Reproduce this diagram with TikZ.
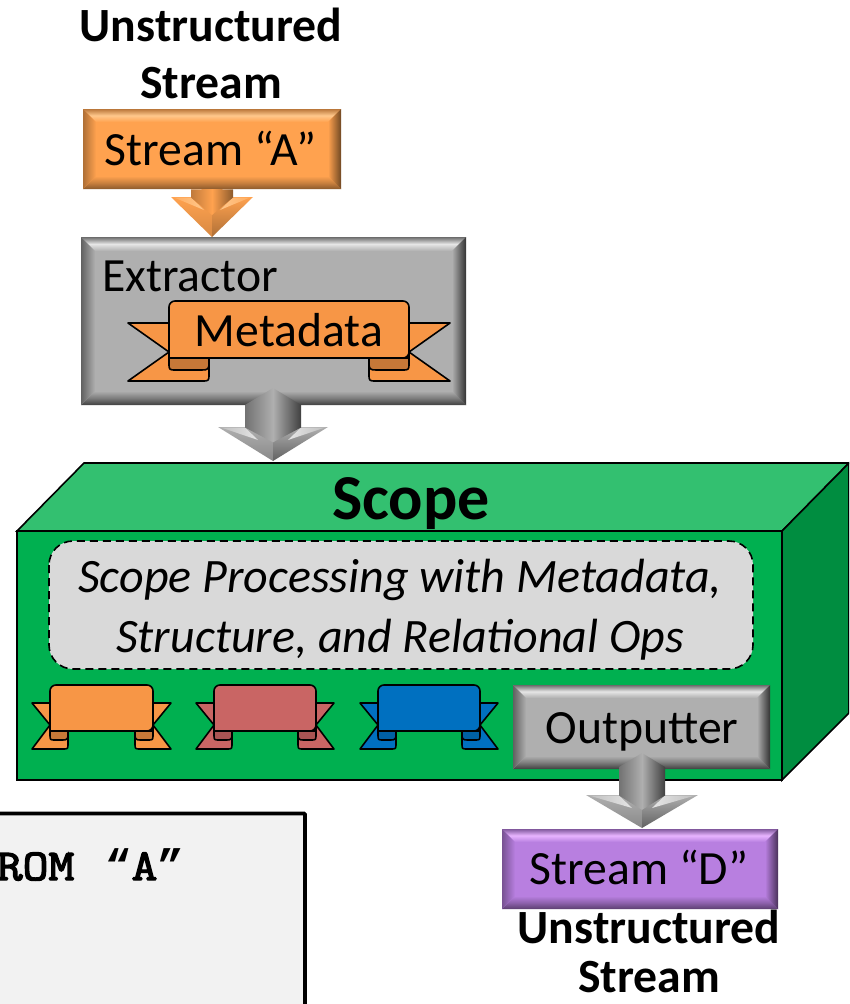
\documentclass[tikz,border=0pt]{standalone}
\usepackage{fontspec}
\setmainfont{Carlito}
\newfontfamily\codefont[FakeBold=3.2,FakeStretch=1.14]{Latin Modern Mono}
\newfontfamily\quotefont{Liberation Mono}
\usetikzlibrary{calc}
\definecolor{orA}{HTML}{FFA24F}\definecolor{orL}{HTML}{FFC88C}\definecolor{orD}{HTML}{8C5A2C}
\definecolor{grA}{HTML}{AFAFAF}\definecolor{grL}{HTML}{E6E6E6}\definecolor{grD}{HTML}{404040}
\definecolor{puA}{HTML}{B87FE0}\definecolor{puL}{HTML}{E8B4FF}\definecolor{puD}{HTML}{5C3F70}
\definecolor{frontG}{HTML}{00B050}\definecolor{topG}{HTML}{33C070}\definecolor{sideG}{HTML}{008D40}
\tikzset{
  lbl/.style={inner sep=0pt,outer sep=0pt,anchor=base,text=black,font=\fontsize{47.7}{48}\selectfont},
  ttl/.style={lbl,font=\fontsize{47.7}{48}\selectfont\bfseries},
  ital/.style={lbl,font=\fontsize{48}{48}\selectfont\itshape},
  ribline/.style={draw=black,line width=1.6pt,line join=round},
  cube/.style={draw=black,line width=1.6pt,line join=miter},
}
% x0 y0 x1 y1 depth prefix
\newcommand{\bevelbox}[6]{%
  \fill[#6A] (#1,#2) rectangle (#3,#4);
  \shade[top color=#6D!60!#6A,bottom color=#6A,middle color=#6L]
     (#1,#2)--(#3,#2)--({#3-#5},{#2+#5})--({#1+#5},{#2+#5})--cycle;
  \shade[top color=#6A,bottom color=#6D,middle color=#6D!45!#6A]
     (#1,#4)--(#3,#4)--({#3-#5},{#4-#5})--({#1+#5},{#4-#5})--cycle;
  \shade[left color=#6D!70!#6A,right color=#6A]
     (#1,#2)--({#1+#5},{#2+#5})--({#1+#5},{#4-#5})--(#1,#4)--cycle;
  \shade[left color=#6A,right color=#6D!80!black]
     (#3,#2)--({#3-#5},{#2+#5})--({#3-#5},{#4-#5})--(#3,#4)--cycle;
}
% cx, stem half, head half, ytop, yshoulder, ywing, ytip, prefix
\newcommand{\blockarrow}[8]{%
  \shade[top color=#8A,bottom color=#8D!35!#8A]
     ({#1-#3},#6)--(#1,#6)--(#1,#7)--cycle;
  \shade[top color=#8A,bottom color=#8D!70!#8A]
     ({#1+#3},#6)--(#1,#6)--(#1,#7)--cycle;
  \shade[left color=#8L!30!#8A,right color=#8L]
     ({#1-#3+3},{#6+0.5})--({#1-#2},{#6+0.5})--({#1-#2+13},{#6+13})--cycle;
  \shade[left color=#8L,right color=#8L!30!#8A]
     ({#1+#3-3},{#6+0.5})--({#1+#2},{#6+0.5})--({#1+#2-13},{#6+13})--cycle;
  \shade[left color=#8D!55!#8A,right color=#8D,middle color=#8A]
     ({#1-#2},{#4+#5})--(#1,#4)--({#1+#2},{#4+#5})--({#1+#2},{#6+0.5})--(#1,{#6+(#7-#6)*0.45})--({#1-#2},{#6+0.5})--cycle;
}
% x0 x1 ytop ybot tail ttop tbot fold fbot ; colours rib, ribd
\newcommand{\ribbon}[9]{%
  \pgfmathsetmacro{\rr}{(#9-#4)*0.6}%
  \path[ribline,fill=rib] ({#1-#5},#6)--(#1,#6)--(#1,{#4-6})--({#1-#5},#7)--({#1+#8-\rr},#7)
     .. controls ({#1+#8},#7) and ({#1+#8},#7) .. ({#1+#8},{#7-\rr})--({#1+#8},#4)--(#1,#4)--(#1,{#4-6})--cycle;
  \path[ribline,fill=rib] ({#2+#5},#6)--(#2,#6)--(#2,{#4-6})--({#2+#5},#7)--({#2-#8+\rr},#7)
     .. controls ({#2-#8},#7) and ({#2-#8},#7) .. ({#2-#8},{#7-\rr})--({#2-#8},#4)--(#2,#4)--(#2,{#4-6})--cycle;
  \path[ribline,fill=ribd] (#1,#4)--(#1,{#9-\rr}) .. controls (#1,#9) and (#1,#9) .. ({#1+\rr},#9)--({#1+#8-\rr},#9)
     .. controls ({#1+#8-1},#9) and ({#1+#8},{#9-1}) .. ({#1+#8},{#9-\rr})--({#1+#8},#4)--cycle;
  \path[ribline,fill=ribd] (#2,#4)--(#2,{#9-\rr}) .. controls (#2,#9) and (#2,#9) .. ({#2-\rr},#9)--({#2-#8+\rr},#9)
     .. controls ({#2-#8+1},#9) and ({#2-#8},{#9-1}) .. ({#2-#8},{#9-\rr})--({#2-#8},#4)--cycle;
  \path[ribline,fill=rib] (#1,#4) {[rounded corners=6pt] --(#1,#3)--(#2,#3)--(#2,#4)} --cycle;
}
\begin{document}
\begin{tikzpicture}[x=1pt,y=-1pt]
\useasboundingbox (0,0) rectangle (849,1004);
\clip (0,0) rectangle (849,1004);
\fill[white] (0,0) rectangle (849,1004);

% code box
\draw[line width=3.6pt,draw=black,fill=black!5,rounded corners=1pt] (-10,813.5) -- (305,813.5) -- (305,1015) -- (-10,1015) -- cycle;
\node[inner sep=0pt,anchor=base east,font=\fontsize{44}{44}\selectfont\codefont] (code) at (184,880) {ROM\hspace{5pt} {\quotefont\bfseries “}A{\quotefont\bfseries ”}};

% titles
\node[ttl] (t1) at (211,41) {Unstructured};
\node[ttl] (t2) at (211,98) {Stream};

% stream A
\bevelbox{83}{109}{341}{189}{13}{or}
\node[lbl] (a) at (210.5,165) {Stream “A”};
\blockarrow{212}{21}{41}{189}{0.5}{197}{237}{or}

% extractor
\bevelbox{81}{237}{466}{405}{14}{gr}
\node[lbl,anchor=base west] (ex) at (102,291) {Extractor};
\definecolor{rib}{HTML}{F79646}\definecolor{ribd}{HTML}{C67838}
\ribbon{169}{409}{301}{358}{41}{323}{381}{40}{370}
\node[lbl] (md) at (289,346) {Metadata};

% scope
\path[cube,fill=topG] (17,531)--(84,463)--(849,463)--(782,531)--cycle;
\path[cube,fill=sideG] (782,531)--(849,463)--(849,713)--(782,780)--cycle;
\path[cube,fill=frontG] (17,531) rectangle (782,780);
\blockarrow{273}{28}{55}{388}{17}{427}{461}{gr}
\node[ttl,font=\fontsize{64}{64}\selectfont\bfseries] (sc) at (411,519) {Scope};
\path[draw=black,line width=1.6pt,dash pattern=on 8pt off 5pt,fill=black!15,rounded corners=24pt] (49,541) rectangle (753,669);
\node[ital] (p1) at (400,592) {Scope Processing with Metadata,};
\node[ital] (p2) at (400,652) {Structure, and Relational Ops};

% small ribbons
\ribbon{50}{153}{685}{731}{18}{703}{749}{18}{740}
\definecolor{rib}{HTML}{C96564}\definecolor{ribd}{HTML}{A95453}
\ribbon{214}{316}{685}{731}{18}{703}{749}{18}{740}
\definecolor{rib}{HTML}{0070C0}\definecolor{ribd}{HTML}{0060A4}
\ribbon{378}{480}{685}{731}{18}{703}{749}{18}{740}

% outputter
\bevelbox{513}{685}{770}{769}{13}{gr}
\node[lbl] (ou) at (642,743) {Outputter};
\blockarrow{642}{23}{56}{753}{14}{795}{828}{gr}

% stream D
\bevelbox{502}{829}{778}{909}{13}{pu}
\node[lbl] (d) at (639,884) {Stream “D”};
\node[ttl] (b1) at (649,943) {Unstructured};
\node[ttl] (b2) at (649,992) {Stream};
\end{tikzpicture}
\end{document}
